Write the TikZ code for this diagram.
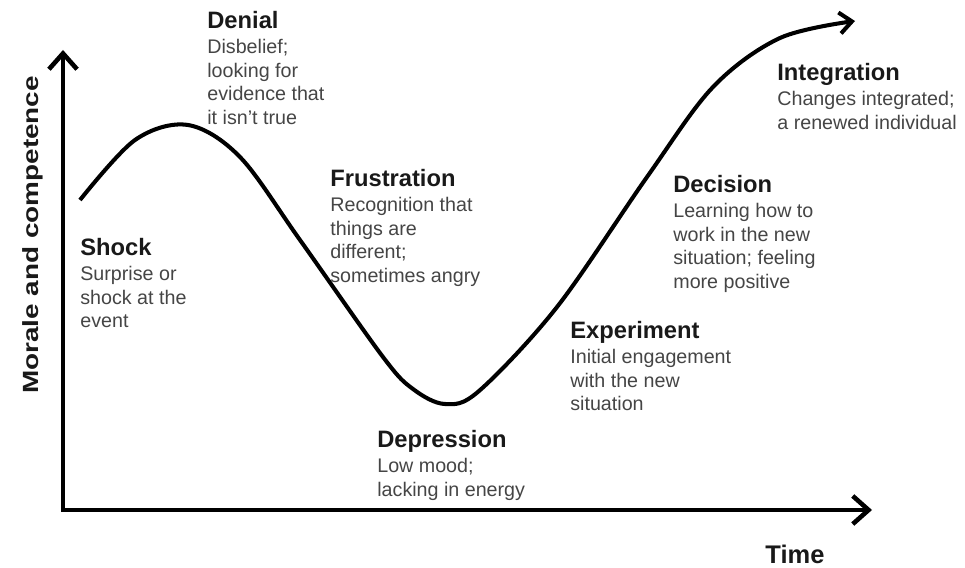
\documentclass[tikz,border=0pt]{standalone}
\usepackage{fontspec}
\setmainfont{Liberation Sans}
\usepackage{xcolor}
\usetikzlibrary{arrows.meta}
\definecolor{headgray}{gray}{0.1}
\definecolor{bodygray}{gray}{0.27}
\newcommand{\headfont}{\fontsize{13.5}{15}\selectfont\bfseries\color{headgray}}
\newcommand{\stagelabel}[2]{{\headfont #1}\\[0.7pt] #2}
\tikzset{
	axis/.style={line width=2.6pt, {Straight Barb[length=9pt,width=16pt]}-{Straight Barb[length=9pt,width=16pt]}},
	curve/.style={line width=2.3pt, -{Straight Barb[length=7pt,width=12pt]}},
	stage/.style={anchor=north west, inner sep=0pt, align=left, text=bodygray,
			font=\fontsize{11.2}{13.5}\selectfont}
}

\begin{document}
\begin{tikzpicture}[x=0.2mm, y=-0.2mm]
        \useasboundingbox (0,0) rectangle (965,568);
        \coordinate (origin) at (63,510);
        \coordinate (ytop) at (63,50);
        \coordinate (xend) at (872,510);
        \draw[axis] (ytop) -- (origin) -- (xend);
        \draw[curve] plot[smooth, tension=0.55] coordinates {(80,200) (135,140) (188,125) (240,157) (300,240) (383,357) (413,389) (445,404) (479,391) (557,307) (647,177) (713,87) (780,38) (855,21)};
        \node[rotate=90, font=\fontsize{12.5}{14}\selectfont\bfseries, text=headgray] (ylabel) at (33,235) {\scalebox{1.27}[1]{Morale and competence}};
        \node[anchor=base, font=\fontsize{14.5}{16}\selectfont\bfseries, text=headgray] (xlabel) at (795,563) {Time};
        \node[stage] (shock) at (80,238) {\stagelabel{Shock}{Surprise or\\ shock at the\\ event}};
        \node[stage] (denial) at (207,11) {\stagelabel{Denial}{Disbelief;\\ looking for\\ evidence that\\ it isn't true}};
        \node[stage] (frustration) at (330,169) {\stagelabel{Frustration}{Recognition that\\ things are\\ different;\\ sometimes angry}};
        \node[stage] (depression) at (377,430) {\stagelabel{Depression}{Low mood;\\ lacking in energy}};
        \node[stage] (experiment) at (570,321) {\stagelabel{Experiment}{Initial engagement\\ with the new\\ situation}};
        \node[stage] (decision) at (673,175) {\stagelabel{Decision}{Learning how to\\ work in the new\\ situation; feeling\\ more positive}};
        \node[stage] (integration) at (777,63) {\stagelabel{Integration}{Changes integrated;\\ a renewed individual}};
\end{tikzpicture}
\end{document}
